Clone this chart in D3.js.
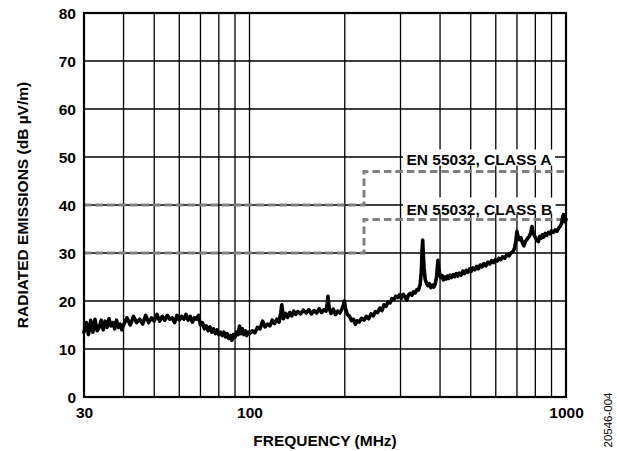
<!DOCTYPE html>
<html>
<head>
<meta charset="utf-8">
<script src="https://cdn.jsdelivr.net/npm/d3@7"></script>
<style>
  html, body { margin: 0; padding: 0; background: #fff; }
  svg { display: block; }
  text { font-family: "Liberation Sans", Arial, Helvetica, sans-serif; }
</style>
</head>
<body>
<svg id="chart" width="617" height="451"></svg>
<script>
// ---- data ----
const yTickValues = [0, 10, 20, 30, 40, 50, 60, 70, 80];
const xTickLabels = [30, 100, 1000];
const xGridValues = [40, 50, 60, 70, 80, 90, 100, 200, 300, 400, 500, 600, 700, 800, 900];

const classAFreq  = [30, 230, 230, 1000];
const classALevel = [40, 40, 47, 47];
const classBFreq  = [30, 230, 230, 1000];
const classBLevel = [30, 30, 37, 37];
const limitLabels = ["EN 55032, CLASS A", "EN 55032, CLASS B"];
const labelLevels = [50, 40];

// measured emission trace: [frequency MHz, level dB µV/m]
const emissionTrace = [
  [30,13.5],[30.5,15.5],[31,13],[31.5,16],[32,13.5],[32.5,16.2],[33,13.8],[33.5,14.5],[34,16],[34.5,14],
  [35,15.8],[35.5,14.5],[36,16.3],[36.5,14.8],[37,15.5],[37.5,14.2],[38,16],[38.5,14.5],[39,15.2],[39.5,14],
  [40,15],[41,16.5],[42,15],[43,16.8],[44,15.5],[45,16.2],[46,15.2],[47,17],[48,15.5],[49,16.5],
  [50,15.8],[51,17.2],[52,15.8],[53,16.8],[54,16],[55,17],[56,16.2],[57,16.5],[58,15.5],[59,17],
  [60,16],[61,16.8],[62,16.2],[63,17.2],[64,16],[65,16.8],[66,15.6],[67,16.5],[68,16.2],[69,17],
  [70,15],[71,15.5],[72,14.2],[73,14.8],[74,13.8],[75,14.6],[76,13.5],[77,14.2],[78,13.2],[79,14],
  [80,13],[81,13.5],[82,12.8],[83,13.5],[84,12.5],[85,13.2],[86,12.2],[87,12.8],[88,11.8],[89,13],
  [90,12.5],[91,13.5],[92,13],[93,14.8],[94,13.2],[95,14.2],[96,13],[97,13.8],[98,12.8],[99,13.5],
  [100,13.2],[102,13.8],[104,13.4],[106,14.5],[108,14.2],[110,15.8],[112,14.6],[114,15.2],[116,14.8],[118,16],
  [120,15.3],[122,16.2],[124,15.6],[125.5,17.5],[126.5,19.2],[128,16.3],[130,17.4],[132,16.6],[134,17.6],[136,16.9],
  [138,17.9],[140,17.2],[142,17.8],[145,17.3],[148,18.1],[151,17.5],[154,18.2],[157,17.3],[160,18],[163,17.5],
  [166,18.4],[169,17.6],[172,18.2],[174.5,17.9],[176,19.5],[177,21],[178.5,18.5],[181,17.4],[184,18.3],[187,17.2],
  [190,17.9],[193,17.5],[196,18.4],[198,19.2],[199.5,20],[201,18.5],[204,17.2],[207,16.8],[210,15.9],[213,16.2],
  [216,15.2],[219,15.9],[222,15.6],[226,16.4],[230,16],[234,16.8],[238,16.3],[242,17.3],[246,16.9],[250,17.8],
  [254,17.6],[258,18.5],[262,18],[266,19.2],[270,18.9],[274,19.8],[278,19.6],[282,20.5],[286,20.3],[290,21],
  [294,20.7],[298,21.3],[302,20.6],[306,21.4],[310,20.9],[314,20.2],[318,21.3],[322,21.6],[326,21.2],[330,21.9],
  [334,21.7],[338,22.4],[342,22.3],[346,23.4],[349,26],[351,30.5],[352.5,32.7],[354,30],[356,27],[359,24.5],
  [362,23.8],[366,23.2],[370,23.6],[374,22.8],[378,23.3],[382,22.9],[386,23.5],[390,25],[392,26.8],[394,28.5],
  [396,27],[399,25.6],[402,24.9],[406,25.3],[410,24.4],[414,25],[418,24.6],[422,25.2],[426,24.7],[430,25.4],
  [435,24.9],[440,25.5],[445,25.1],[450,25.7],[455,25.2],[460,25.8],[466,25.4],[472,26.2],[478,25.7],[484,26.4],
  [490,26],[496,26.7],[502,26.2],[508,26.9],[515,26.5],[522,27.2],[529,26.7],[536,27.5],[543,27.1],[550,27.8],
  [558,27.3],[566,28.1],[574,27.7],[582,28.4],[590,28],[598,28.6],[606,28.3],[614,28.9],[622,28.6],[630,29.2],
  [640,28.9],[650,29.6],[660,29.4],[670,30],[680,30.3],[688,31],[694,32.5],[700,34.5],[705,33.5],[712,32.8],
  [720,33.2],[728,32.2],[736,31.5],[744,32.4],[752,32.8],[760,33.2],[768,33.6],[775,34.5],[781,35.5],[788,34.2],
  [795,33.6],[802,33.1],[810,32.6],[818,32.4],[826,33.4],[834,33.1],[842,33.8],[850,33.3],[860,34.1],[870,33.7],
  [880,34.3],[890,34],[900,34.6],[912,34.3],[924,34.8],[936,34.5],[948,35.2],[960,35.6],[970,36.3],[976,37.5],
  [982,38],[988,36.8],[994,36.5],[1000,37]
];

// ---- layout ----
const margin = { left: 84, right: 51, top: 13, bottom: 54 };
const W = 617, H = 451;
const svg = d3.select("#chart");

const x = d3.scaleLog().domain([30, 1000]).range([margin.left, W - margin.right]);
const y = d3.scaleLinear().domain([0, 80]).range([H - margin.bottom, margin.top]);

const FONT = 15.5;

// grid lines
const grid = svg.append("g");
grid.selectAll("line.v").data(xGridValues).join("line")
  .attr("x1", d => x(d)).attr("x2", d => x(d))
  .attr("y1", y(0)).attr("y2", y(80))
  .attr("stroke", "#000").attr("stroke-width", 1.3);
grid.selectAll("line.h").data(yTickValues.slice(1, -1)).join("line")
  .attr("x1", x(30)).attr("x2", x(1000))
  .attr("y1", d => y(d)).attr("y2", d => y(d))
  .attr("stroke", "#000").attr("stroke-width", 1.3);

// limit lines
const limLine = d3.line().x(d => x(d[0])).y(d => y(d[1]));
function drawLimit(freqs, levels) {
  svg.append("path")
    .datum(freqs.map((f, i) => [f, levels[i]]))
    .attr("d", limLine)
    .attr("fill", "none")
    .attr("stroke", "#808080")
    .attr("stroke-width", 3)
    .attr("stroke-dasharray", "7.5,4");
}
drawLimit(classAFreq, classALevel);
drawLimit(classBFreq, classBLevel);

// limit labels with white background
const labelOffsets = [8.2, 9.5];
limitLabels.forEach((lbl, i) => {
  const yl = y(labelLevels[i]);
  const g = svg.append("g");
  const t = g.append("text")
    .attr("x", 406.5)
    .attr("y", yl + labelOffsets[i])
    .attr("font-size", FONT)
    .attr("font-weight", "bold")
    .attr("fill", "#000")
    .text(lbl);
  const bb = t.node().getBBox();
  g.insert("rect", "text")
    .attr("x", bb.x - 3.5).attr("y", yl - 7.5)
    .attr("width", bb.width + 7).attr("height", 16)
    .attr("fill", "#fff");
});

// emission trace
svg.append("path")
  .datum(emissionTrace)
  .attr("d", d3.line().x(d => x(d[0])).y(d => y(d[1])))
  .attr("fill", "none")
  .attr("stroke", "#000")
  .attr("stroke-width", 3.6)
  .attr("stroke-linejoin", "round")
  .attr("stroke-linecap", "round");

// frame
svg.append("rect")
  .attr("x", x(30)).attr("y", y(80))
  .attr("width", x(1000) - x(30)).attr("height", y(0) - y(80))
  .attr("fill", "none").attr("stroke", "#000").attr("stroke-width", 2.2);

// y tick labels
const yAxis = d3.axisLeft(y).tickValues(yTickValues).tickSize(0).tickPadding(8).tickFormat(d3.format("d"));
const gy = svg.append("g").attr("transform", `translate(${x(30)},0)`).call(yAxis);
gy.select(".domain").remove();
gy.selectAll("text").attr("font-size", FONT).attr("font-weight", "bold")
  .attr("font-family", "'Liberation Sans', Arial, sans-serif").attr("fill", "#000").attr("dy", "0.36em");

// x tick labels
const xAxis = d3.axisBottom(x).tickValues(xTickLabels).tickSize(0).tickPadding(10).tickFormat(d3.format("d"));
const gx = svg.append("g").attr("transform", `translate(0,${y(0)})`).call(xAxis);
gx.select(".domain").remove();
gx.selectAll("text").attr("font-size", FONT).attr("font-weight", "bold")
  .attr("font-family", "'Liberation Sans', Arial, sans-serif").attr("fill", "#000");

// axis titles
svg.append("text")
  .attr("x", (x(30) + x(1000)) / 2).attr("y", 445.5)
  .attr("text-anchor", "middle").attr("font-size", FONT).attr("font-weight", "bold")
  .text("FREQUENCY (MHz)");
svg.append("text")
  .attr("transform", `translate(27.5,${(y(0) + y(80)) / 2}) rotate(-90)`)
  .attr("text-anchor", "middle").attr("font-size", FONT).attr("font-weight", "bold")
  .text("RADIATED EMISSIONS (dB µV/m)");

// figure code
svg.append("text")
  .attr("transform", "translate(612,420) rotate(-90)")
  .attr("text-anchor", "middle").attr("font-size", 11.5)
  .text("20546-004");
</script>
</body>
</html>
